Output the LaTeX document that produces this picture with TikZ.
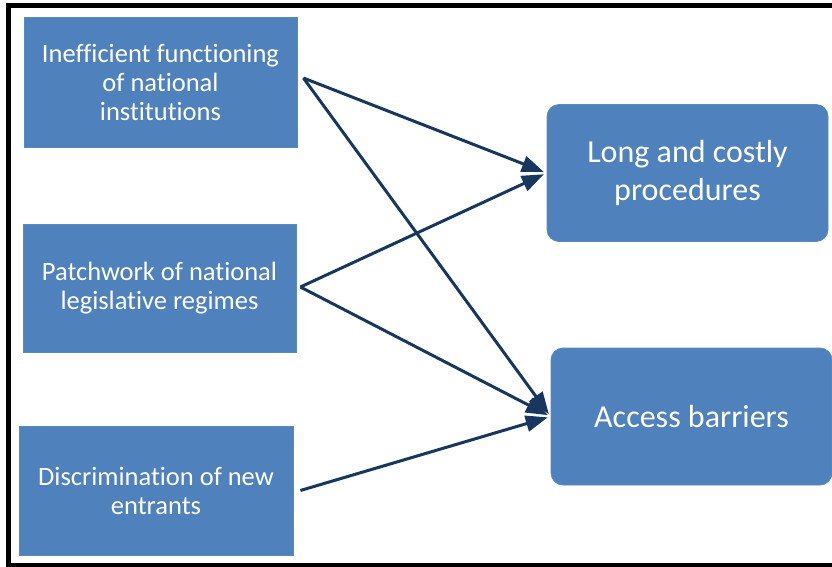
\documentclass[tikz,border=0pt]{standalone}
\usepackage{fontspec}
\setmainfont{Carlito}[Ligatures=NoCommon]
\usetikzlibrary{arrows.meta,calc}
\definecolor{boxblue}{HTML}{4F81BD}
\definecolor{boxedge}{HTML}{5A8AC4}
\definecolor{arrownavy}{HTML}{17375E}
\begin{document}
\begin{tikzpicture}[x=1pt,y=-1pt,
  causebox/.style={fill=boxblue,draw=boxedge,line width=0.8pt,text=white,
    align=center,inner sep=0pt,
    font=\fontsize{26.5}{29}\selectfont},
  effectbox/.style={causebox,rounded corners=12pt,
    font=\fontsize{32}{38}\selectfont},
  link/.style={draw=arrownavy,line width=3pt,
    -{Triangle[length=22pt,width=16pt]},shorten >=3pt}]
\useasboundingbox (0,0) rectangle (832,567);
% outer frame
\draw[line width=5pt] (8.5,5.5) rectangle (840,565);
% causes
\node[causebox,minimum width=273pt,minimum height=130pt] (c1) at (160.5,82)
  {Inefficient functioning\\of national\\institutions};
\node[causebox,minimum width=273pt,minimum height=128pt] (c2) at (159.5,288)
  {Patchwork of national\\legislative regimes};
\node[causebox,minimum width=274pt,minimum height=129pt] (c3) at (156,490.5)
  {Discrimination of new\\entrants};
% effects
\node[effectbox,minimum width=281pt,minimum height=137pt] (e1) at (687.5,173)
  {Long and costly\\procedures};
\node[effectbox,minimum width=281pt,minimum height=137pt] (e2) at (691.5,416.5)
  {Access barriers};
% arrow start points just right of the cause boxes
\coordinate (s1) at ($(c1.east)+(6,-4)$);
\coordinate (s2) at ($(c2.east)+(4,-1)$);
\coordinate (s3) at ($(c3.east)+(7,0)$);
\draw[link] (s1) -- (e1.west);
\draw[link] (s1) -- (e2.west);
\draw[link] (s2) -- (e1.west);
\draw[link] (s2) -- (e2.west);
\draw[link] (s3) -- (e2.west);
\end{tikzpicture}
\end{document}
